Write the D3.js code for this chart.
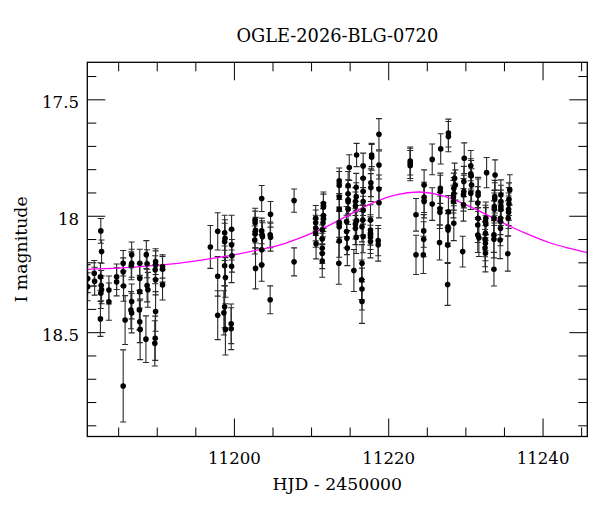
<!DOCTYPE html>
<html>
<head>
<meta charset="utf-8">
<script src="https://cdn.jsdelivr.net/npm/d3@7/dist/d3.min.js"></script>
<style>
  html, body { margin: 0; padding: 0; background: #fff; }
  svg { display: block; }
  text { font-family: "DejaVu Serif", "Liberation Serif", serif; fill: #000; }
</style>
</head>
<body>
<svg id="chart" width="600" height="512"></svg>
<script>
// ---------------- DATA ----------------
const chartTitle = "OGLE-2026-BLG-0720";
const xLabel = "HJD - 2450000";
const yLabel = "I magnitude";

const xDomain = [11181.0, 11245.8];
const yDomain = [17.341, 18.948];

const xMajorTicks = [11200, 11220, 11240];
const xMinorTicks = [11185, 11190, 11195, 11205, 11210, 11215, 11225, 11230, 11235, 11245];
const yMajorTicks = [17.5, 18, 18.5];
const yMinorTicks = [17.4, 17.6, 17.7, 17.8, 17.9, 18.1, 18.2, 18.3, 18.4, 18.6, 18.7, 18.8, 18.9];

// observations: HJD-2450000, I magnitude, error
const obsDay = [
  11181.05, 11181.05,
  11181.9, 11181.95,
  11182.75, 11182.85, 11182.7, 11182.8, 11182.85, 11182.75, 11182.7,
  11183.8, 11183.8,
  11184.8, 11184.8,
  11185.65, 11185.65, 11185.7, 11185.9, 11185.65,
  11186.75, 11186.75, 11186.7, 11186.75, 11186.65, 11186.75,
  11187.8, 11187.8, 11187.8, 11187.75, 11187.8, 11187.85,
  11188.65, 11188.75, 11188.75, 11188.85, 11188.6,
  11189.85, 11189.85, 11189.8, 11189.85, 11189.85, 11189.8, 11189.75,
  11190.75, 11190.75, 11190.75,
  11196.95,
  11197.9, 11197.9, 11197.9,
  11198.8, 11198.85, 11198.8, 11198.8, 11198.9, 11198.8, 11198.7, 11198.9,
  11199.7, 11199.7, 11199.75, 11199.7, 11199.65, 11199.65,
  11202.75, 11202.75, 11202.8, 11202.75, 11202.7, 11202.8,
  11203.6, 11203.6, 11203.65, 11203.7, 11203.6, 11203.6,
  11204.75, 11204.7, 11204.75, 11204.7,
  11207.8, 11207.8,
  11210.6, 11210.6, 11210.6, 11210.6, 11210.65,
  11211.6, 11211.6, 11211.6, 11211.6, 11211.55, 11211.45, 11211.45, 11211.45, 11211.45, 11211.45,
  11213.65, 11213.65, 11213.65, 11213.65, 11213.65, 11213.65, 11213.65, 11213.6,
  11214.95, 11214.8, 11214.8, 11214.8, 11214.8, 11214.8, 11214.6, 11214.6, 11214.65, 11214.7,
  11215.9, 11215.85, 11215.85, 11215.75, 11215.75, 11215.9, 11215.75, 11215.75, 11215.85, 11215.55,
  11216.75, 11216.75, 11216.75, 11216.75, 11216.75, 11216.7, 11216.6, 11216.75, 11216.6, 11216.55, 11216.6, 11216.6,
  11217.85, 11217.85, 11217.75, 11217.75, 11217.7, 11217.7, 11217.7, 11217.7, 11217.7,
  11218.8, 11218.8, 11218.8, 11218.8, 11218.7, 11218.7,
  11222.85, 11222.85, 11222.85,
  11223.6, 11223.6,
  11224.65, 11224.65, 11224.65, 11224.6, 11224.6, 11224.55,
  11225.7, 11225.7,
  11226.8, 11226.75, 11226.75, 11226.7, 11226.7, 11226.65,
  11227.8, 11227.8, 11227.8, 11227.75, 11227.75, 11227.7, 11227.7,
  11228.6, 11228.7, 11228.5, 11228.5, 11228.45, 11228.45, 11228.5,
  11229.85, 11229.8, 11229.8, 11229.75, 11229.75, 11229.65,
  11230.7, 11230.7, 11230.75, 11230.8, 11230.7,
  11231.65, 11231.65, 11231.6, 11231.65, 11231.6, 11231.6, 11231.75,
  11232.75, 11232.65, 11232.6, 11232.65, 11232.6, 11232.55, 11232.6, 11232.55, 11232.6,
  11233.85, 11233.8, 11233.8, 11233.75, 11233.75, 11233.7, 11233.7, 11233.7, 11233.7,
  11234.6, 11234.6, 11234.6, 11234.6, 11234.55, 11234.55, 11234.55, 11234.5,
  11235.75, 11235.65, 11235.65, 11235.6, 11235.6, 11235.55, 11235.5
];
const obsMag = [
  18.270, 18.305,
  18.247, 18.281,
  18.065, 18.154, 18.262, 18.300, 18.318, 18.333, 18.443,
  18.319, 18.369,
  18.262, 18.284,
  18.204, 18.241, 18.302, 18.448, 18.731,
  18.168, 18.204, 18.215, 18.368, 18.405, 18.418,
  18.204, 18.269, 18.326, 18.405, 18.455, 18.488,
  18.167, 18.206, 18.300, 18.318, 18.530,
  18.197, 18.211, 18.232, 18.275, 18.411, 18.526, 18.548,
  18.218, 18.230, 18.297,
  18.134,
  18.067, 18.260, 18.427,
  18.073, 18.097, 18.112, 18.215, 18.265, 18.391, 18.417, 18.488,
  18.058, 18.125, 18.172, 18.217, 18.464, 18.485,
  18.018, 18.030, 18.062, 18.078, 18.104, 18.226,
  17.926, 18.065, 18.082, 18.090, 18.146, 18.211,
  17.994, 18.082, 18.092, 18.361,
  17.935, 18.198,
  18.011, 18.030, 18.053, 18.075, 18.120,
  17.948, 17.962, 17.999, 18.012, 18.030, 18.060, 18.100, 18.140, 18.162, 18.194,
  17.850, 17.870, 17.920, 17.972, 18.028, 18.047, 18.108, 18.204,
  17.793, 17.870, 17.906, 17.932, 17.940, 17.972, 18.025, 18.068, 18.097, 18.139,
  17.739, 17.878, 17.918, 17.939, 17.958, 18.021, 18.035, 18.054, 18.092, 18.235,
  17.786, 17.839, 17.896, 17.939, 17.976, 18.018, 18.047, 18.089, 18.204, 18.275, 18.315, 18.368,
  17.739, 17.749, 17.858, 17.879, 18.018, 18.061, 18.075, 18.092, 18.111,
  17.650, 17.782, 17.885, 17.944, 18.107, 18.125,
  17.765, 17.775, 17.785,
  17.996, 18.168,
  17.868, 17.921, 17.939, 18.065, 18.101, 18.168,
  17.758, 17.950,
  17.713, 17.882, 17.896, 17.970, 17.985, 18.115,
  17.645, 17.660, 17.983, 18.047, 18.061, 18.126, 18.295,
  17.839, 17.868, 17.882, 17.906, 17.918, 17.939, 18.032,
  17.753, 17.853, 17.896, 17.910, 17.953, 18.154,
  17.785, 17.820, 17.828, 17.868, 17.903,
  17.900, 17.912, 17.945, 18.011, 18.040, 18.083, 18.095,
  17.815, 18.011, 18.025, 18.035, 18.075, 18.101, 18.118, 18.139, 18.161,
  17.825, 17.918, 17.928, 17.961, 17.972, 18.011, 18.082, 18.101, 18.230,
  17.911, 17.939, 17.960, 17.972, 18.011, 18.025, 18.054, 18.104,
  17.889, 17.929, 17.949, 17.972, 17.985, 18.011, 18.163
];
const obsErr = [
  0.060, 0.060,
  0.055, 0.060,
  0.053, 0.050, 0.060, 0.065, 0.060, 0.065, 0.075,
  0.060, 0.080,
  0.055, 0.060,
  0.055, 0.060, 0.065, 0.105, 0.155,
  0.055, 0.060, 0.060, 0.075, 0.080, 0.085,
  0.060, 0.065, 0.070, 0.085, 0.090, 0.130,
  0.060, 0.060, 0.070, 0.075, 0.100,
  0.055, 0.060, 0.060, 0.065, 0.085, 0.095, 0.097,
  0.050, 0.055, 0.065,
  0.092,
  0.080, 0.085, 0.105,
  0.075, 0.080, 0.080, 0.085, 0.085, 0.090, 0.095, 0.110,
  0.060, 0.065, 0.070, 0.070, 0.085, 0.090,
  0.050, 0.050, 0.055, 0.060, 0.060, 0.088,
  0.056, 0.055, 0.060, 0.060, 0.065, 0.070,
  0.055, 0.055, 0.060, 0.060,
  0.050, 0.060,
  0.055, 0.055, 0.055, 0.060, 0.065,
  0.050, 0.055, 0.055, 0.055, 0.060, 0.060, 0.060, 0.065, 0.065, 0.070,
  0.055, 0.060, 0.060, 0.060, 0.065, 0.065, 0.070, 0.090,
  0.055, 0.060, 0.060, 0.060, 0.060, 0.065, 0.065, 0.070, 0.070, 0.075,
  0.050, 0.060, 0.060, 0.060, 0.060, 0.065, 0.065, 0.070, 0.070, 0.090,
  0.055, 0.055, 0.060, 0.060, 0.060, 0.065, 0.065, 0.070, 0.080, 0.085, 0.090, 0.094,
  0.050, 0.055, 0.060, 0.060, 0.065, 0.065, 0.070, 0.070, 0.070,
  0.067, 0.060, 0.060, 0.065, 0.065, 0.070,
  0.060, 0.065, 0.065,
  0.070, 0.084,
  0.065, 0.065, 0.070, 0.070, 0.075, 0.080,
  0.066, 0.070,
  0.065, 0.065, 0.070, 0.070, 0.070, 0.075,
  0.060, 0.065, 0.070, 0.070, 0.070, 0.075, 0.090,
  0.065, 0.065, 0.065, 0.070, 0.070, 0.070, 0.075,
  0.066, 0.065, 0.070, 0.070, 0.070, 0.066,
  0.065, 0.065, 0.065, 0.070, 0.070,
  0.065, 0.070, 0.070, 0.070, 0.075, 0.075, 0.080,
  0.065, 0.070, 0.070, 0.070, 0.075, 0.075, 0.075, 0.080, 0.080,
  0.065, 0.070, 0.070, 0.070, 0.070, 0.075, 0.075, 0.080, 0.072,
  0.065, 0.070, 0.070, 0.070, 0.070, 0.075, 0.075, 0.080,
  0.065, 0.070, 0.070, 0.070, 0.070, 0.075, 0.075
];

// model light curve (HJD-2450000, I mag)
const modelDay = [11181, 11185, 11189, 11193, 11197, 11200, 11203, 11206, 11209, 11212, 11215, 11218, 11221, 11224, 11226.5, 11229, 11232, 11235, 11238, 11241, 11243.5, 11245.8];
const modelMag = [18.230, 18.225, 18.215, 18.203, 18.184, 18.168, 18.148, 18.125, 18.090, 18.047, 17.995, 17.945, 17.910, 17.898, 17.909, 17.937, 17.983, 18.033, 18.078, 18.117, 18.140, 18.158];

// ---------------- DRAW ----------------
const svg = d3.select("#chart");
const L = 87.3, R = 587.3, T = 62.3, B = 436.5;

const x = d3.scaleLinear().domain(xDomain).range([L, R]);
const y = d3.scaleLinear().domain(yDomain).range([T, B]);

svg.append("defs").append("clipPath").attr("id", "plotclip")
  .append("rect").attr("x", L).attr("y", T).attr("width", R - L).attr("height", B - T);

// ticks
function styleAxis(sel) {
  sel.select(".domain").remove();
  sel.selectAll(".tick line").attr("stroke", "#000").attr("stroke-width", 1);
}
const tickFont = "16.6px";

svg.append("g").attr("transform", `translate(0,${B})`)
  .call(d3.axisBottom(x).tickValues(xMajorTicks).tickSize(-18).tickFormat(d3.format("d")))
  .call(styleAxis)
  .call(g => g.selectAll("text").attr("y", 27.5).attr("dy", 0)
      .style("font-size", tickFont).style("font-family", "DejaVu Serif").attr("fill", "#000"));
svg.append("g").attr("transform", `translate(0,${B})`)
  .call(d3.axisBottom(x).tickValues(xMinorTicks).tickSize(-9).tickFormat(""))
  .call(styleAxis);
svg.append("g").attr("transform", `translate(0,${T})`)
  .call(d3.axisTop(x).tickValues(xMajorTicks).tickSize(-18).tickFormat(""))
  .call(styleAxis);
svg.append("g").attr("transform", `translate(0,${T})`)
  .call(d3.axisTop(x).tickValues(xMinorTicks).tickSize(-9).tickFormat(""))
  .call(styleAxis);

svg.append("g").attr("transform", `translate(${L},0)`)
  .call(d3.axisLeft(y).tickValues(yMajorTicks).tickSize(-18).tickPadding(8.3).tickFormat(d => String(d)))
  .call(styleAxis)
  .call(g => g.selectAll("text").attr("dy", "0.5em")
      .style("font-size", tickFont).style("font-family", "DejaVu Serif").attr("fill", "#000"));
svg.append("g").attr("transform", `translate(${L},0)`)
  .call(d3.axisLeft(y).tickValues(yMinorTicks).tickSize(-9).tickFormat(""))
  .call(styleAxis);
svg.append("g").attr("transform", `translate(${R},0)`)
  .call(d3.axisRight(y).tickValues(yMajorTicks).tickSize(-18).tickFormat(""))
  .call(styleAxis);
svg.append("g").attr("transform", `translate(${R},0)`)
  .call(d3.axisRight(y).tickValues(yMinorTicks).tickSize(-9).tickFormat(""))
  .call(styleAxis);

// data
const obs = obsDay.map((d, i) => ({ d, m: obsMag[i], e: obsErr[i] }));
const plot = svg.append("g").attr("clip-path", "url(#plotclip)");

const bars = plot.append("g").attr("stroke", "#2a2a2a").attr("stroke-width", 1.1).attr("fill", "none");
bars.selectAll("line.v").data(obs).join("line").attr("class", "v")
  .attr("x1", p => x(p.d)).attr("x2", p => x(p.d))
  .attr("y1", p => y(p.m - p.e)).attr("y2", p => y(p.m + p.e));
bars.selectAll("line.ct").data(obs).join("line").attr("class", "ct")
  .attr("x1", p => x(p.d) - 3).attr("x2", p => x(p.d) + 3)
  .attr("y1", p => y(p.m - p.e)).attr("y2", p => y(p.m - p.e));
bars.selectAll("line.cb").data(obs).join("line").attr("class", "cb")
  .attr("x1", p => x(p.d) - 3).attr("x2", p => x(p.d) + 3)
  .attr("y1", p => y(p.m + p.e)).attr("y2", p => y(p.m + p.e));

// model curve
const model = modelDay.map((d, i) => ({ d, m: modelMag[i] }));
plot.append("path").datum(model)
  .attr("fill", "none").attr("stroke", "#ff00ff").attr("stroke-width", 1.3)
  .attr("d", d3.line().x(p => x(p.d)).y(p => y(p.m)).curve(d3.curveCatmullRom.alpha(0.5)));

plot.append("g").selectAll("circle").data(obs).join("circle")
  .attr("cx", p => x(p.d)).attr("cy", p => y(p.m)).attr("r", 2.8).attr("fill", "#000");

// frame
svg.append("rect").attr("x", L).attr("y", T).attr("width", R - L).attr("height", B - T)
  .attr("fill", "none").attr("stroke", "#000").attr("stroke-width", 1.3);

// titles
svg.append("text").attr("x", (L + R) / 2).attr("y", 41.7).attr("text-anchor", "middle")
  .style("font-size", "17.8px").text(chartTitle);
svg.append("text").attr("x", (L + R) / 2).attr("y", 490).attr("text-anchor", "middle")
  .style("font-size", "17.3px").text(xLabel);
svg.append("text").attr("transform", `translate(27.3,${(T + B) / 2}) rotate(-90)`)
  .attr("text-anchor", "middle").style("font-size", "17.3px").text(yLabel);
</script>
</body>
</html>
